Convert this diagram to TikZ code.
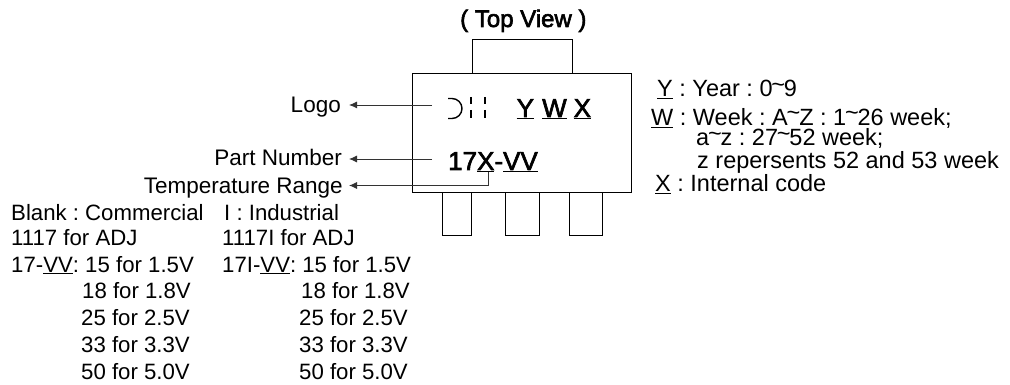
\documentclass[tikz,border=0pt]{standalone}
\usepackage{fontspec}
\setmainfont{Liberation Sans}
\newfontface\markf{Liberation Sans}[FakeBold=2.5]
\usetikzlibrary{arrows.meta}
\newcommand{\ul}[1]{\underline{#1}}
\newcommand{\tld}{\kern-0.05em\raisebox{0.2em}{\textasciitilde}\kern-0.05em}
\tikzset{
  x=1pt,y=-1pt,
  lab/.style={inner sep=0pt,anchor=base west,font=\fontsize{22.2}{22.2}\selectfont\frenchspacing},
  labk/.style={inner sep=0pt,anchor=base west,font=\fontsize{23.5}{23.5}\selectfont\frenchspacing},
  labr/.style={inner sep=0pt,anchor=base east,font=\fontsize{22.5}{22.5}\selectfont\frenchspacing},
  markt/.style={inner sep=0pt,anchor=base west,font=\markf\fontsize{26}{26}\selectfont,text=black},
  body/.style={draw=black,line width=1pt,fill=none},
  lead/.style={draw=black!80,line width=0.9pt,-{Latex[length=8pt,width=7pt]}}
}
\begin{document}
\begin{tikzpicture}
\useasboundingbox (0,0) rectangle (1010,385);
\draw[body] (412,74) rectangle (631.5,192.5);
\draw[body] (472,74) -- (472,40) -- (572.5,40) -- (572.5,74);
\draw[body] (442,192.5) -- (442,235) -- (471,235) -- (471,192.5);
\draw[body] (505,192.5) -- (505,235) -- (539,235) -- (539,192.5);
\draw[body] (569,192.5) -- (569,235) -- (602,235) -- (602,192.5);
\node[inner sep=0pt,anchor=base west,font=\markf\fontsize{24}{24}\selectfont] (tv) at (460,27) {( Top View )};
\node[labr] (logo) at (341,112.5) {Logo};
\node[labr] (pn) at (342,165.5) {Part Number};
\node[labr] (tr) at (343,193.5) {Temperature Range};
\coordinate (logoE) at (432,105);
\coordinate (pnE) at (432,159);
\coordinate (trE) at (488,172);
\coordinate (trB) at (488,185.5);
\coordinate (logoT) at (349,105);
\coordinate (pnT) at (349,159);
\coordinate (trT) at (349,185.5);
\draw[lead] (logoE) -- (logoT);
\draw[lead] (pnE) -- (pnT);
\draw[lead] (trE) -- (trB) -- (trT);
\draw[line width=1.4pt] (448,98.5) -- (452,98.5) arc[start angle=-90,end angle=90,radius=10] -- (448,118.5);
\draw[line width=1.4pt] (471,97) -- (471,104) (471,110) -- (471,118);
\draw[line width=1.4pt] (485,97) -- (485,104) (485,110) -- (485,118);
\node[markt] (my) at (516.5,117) {\ul{Y}};
\node[markt] (mw) at (542,117) {\ul{W}};
\node[markt] (mx) at (573.5,117) {\ul{X}};
\node[markt] (part) at (448,170) {17\ul{X}-\ul{VV}};
\node[labk] (r1) at (657,97) {\ul{Y} : Year : 0\tld 9};
\node[labk] (r2) at (651,125.5) {\ul{W} : Week : A\tld Z : 1\tld 26 week;};
\node[labk] (r3) at (696,146) {a\tld z : 27\tld 52 week;};
\node[labk] (r4) at (697,169) {z repersents 52 and 53 week};
\node[labk] (r5) at (655,191.5) {\ul{X} : Internal code};
\node[lab] (a1) at (11,220) {Blank : Commercial};
\node[lab] (a2) at (11,245) {1117 for ADJ};
\node[lab] (a3) at (11,272) {17-\ul{VV}: 15 for 1.5V};
\node[lab] (a4) at (82,298) {18 for 1.8V};
\node[lab] (a5) at (81,325) {25 for 2.5V};
\node[lab] (a6) at (81,352) {33 for 3.3V};
\node[lab] (a7) at (81,379) {50 for 5.0V};
\node[lab] (b1) at (224,220) {I : Industrial};
\node[lab] (b2) at (222,245) {1117I for ADJ};
\node[lab] (b3) at (222,272) {17I-\ul{VV}: 15 for 1.5V};
\node[lab] (b4) at (301,298) {18 for 1.8V};
\node[lab] (b5) at (299,325) {25 for 2.5V};
\node[lab] (b6) at (299,352) {33 for 3.3V};
\node[lab] (b7) at (299,379) {50 for 5.0V};
\end{tikzpicture}
\end{document}
